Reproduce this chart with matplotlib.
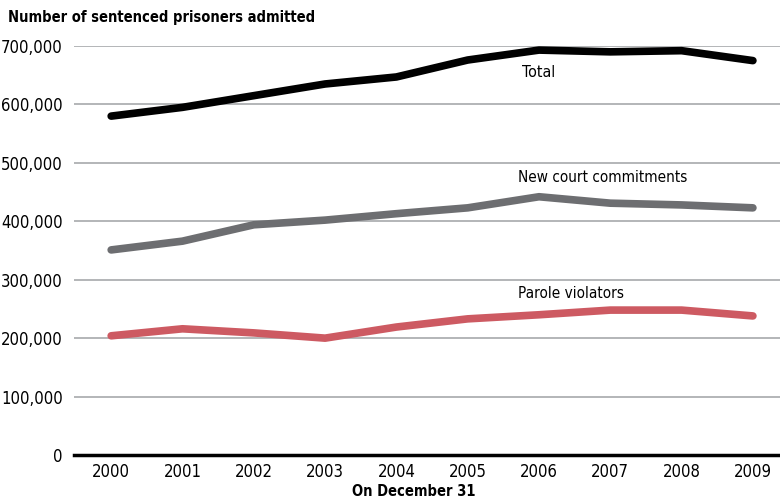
import matplotlib
matplotlib.use("Agg")
import matplotlib.pyplot as plt
from matplotlib.ticker import FuncFormatter

plt.rcParams['font.family'] = ['DejaVu Sans']
plt.rcParams['font.stretch'] = 'condensed'

years = [2000, 2001, 2002, 2003, 2004, 2005, 2006, 2007, 2008, 2009]
total = [580000, 595000, 615000, 635000, 647000, 676000, 693000, 690000, 692000, 675000]
new_court = [351000, 366000, 394000, 402000, 413000, 423000, 442000, 431000, 428000, 423000]
parole = [204000, 216000, 209000, 200000, 219000, 233000, 240000, 248000, 248000, 238000]

fig = plt.figure(figsize=(7.8, 5), dpi=100)
ax = fig.add_axes([0.095, 0.09, 0.905, 0.818])

ax.plot(years, total, color="black", lw=5.5, solid_capstyle="round")
ax.plot(years, new_court, color="#6d6e71", lw=5.5, solid_capstyle="round")
ax.plot(years, parole, color="#cd5a62", lw=5.5, solid_capstyle="round")

ax.set_xlim(1999.48, 2009.38)
ax.set_ylim(0, 700000)
ax.set_yticks(range(0, 700001, 100000))
ax.set_xticks(years)
ax.yaxis.set_major_formatter(FuncFormatter(lambda v, p: f"{int(v):,}"))
ax.grid(axis="y", color="#a7a9ac", lw=1.2)
ax.set_axisbelow(True)
for s in ["top", "right", "left"]:
    ax.spines[s].set_visible(False)
ax.spines["bottom"].set_linewidth(2.5)
ax.spines["bottom"].set_zorder(5)
ax.tick_params(length=0, labelsize=12, pad=6)
ax.tick_params(axis="y", pad=8)

ax.text(2006.0, 655000, "Total", fontsize=11.5, ha="center", va="center")
ax.text(2006.9, 475000, "New court commitments", fontsize=11, ha="center", va="center")
ax.text(2006.45, 276000, "Parole violators", fontsize=11, ha="center", va="center")

fig.text(0.01, 0.965, "Number of sentenced prisoners admitted", fontsize=10.5,
         fontweight="bold", ha="left", va="center")
fig.text(0.53, 0.018, "On December 31", fontsize=10.5, fontweight="bold",
         ha="center", va="center")

fig.savefig("out.png", dpi=100)
